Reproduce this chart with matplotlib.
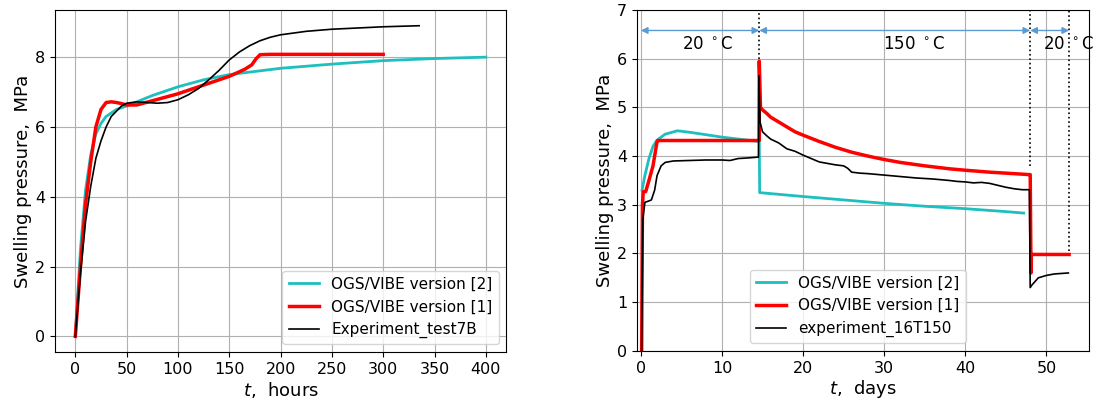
import matplotlib.pyplot as plt
import numpy as np

# --- left panel: test 7B, time in hours ---
t_v2_h = [0, 5, 10, 15, 20, 25, 30, 40, 50, 75, 100, 125, 150, 200, 250, 300, 350, 400]
p_v2_h = [0, 2.5, 4.2, 5.2, 5.8, 6.1, 6.3, 6.5, 6.6, 6.9, 7.15, 7.35, 7.5, 7.68, 7.8, 7.9, 7.96, 8.0]

t_v1_h = [0, 5, 10, 15, 20, 25, 30, 35, 40, 45, 50, 60, 75, 100, 125, 150, 165, 172, 176, 180, 190, 300]
p_v1_h = [0, 2.0, 3.8, 5.0, 6.0, 6.5, 6.7, 6.72, 6.7, 6.67, 6.63, 6.63, 6.75, 6.95, 7.2, 7.45,
          7.65, 7.78, 7.95, 8.07, 8.08, 8.08]

t_exp_h = [0, 5, 10, 15, 20, 25, 30, 35, 40, 45, 50, 60, 70, 80, 90, 100, 110, 120, 130, 140, 150,
           160, 170, 180, 190, 200, 225, 250, 300, 335]
p_exp_h = [0, 1.8, 3.3, 4.3, 5.1, 5.6, 6.0, 6.3, 6.45, 6.6, 6.68, 6.72, 6.7, 6.68, 6.7, 6.78, 6.92,
           7.1, 7.35, 7.62, 7.92, 8.15, 8.33, 8.47, 8.57, 8.64, 8.74, 8.8, 8.87, 8.9]

# --- right panel: 16T150, time in days ---
t_v2_d = [0.15, 0.5, 1, 1.5, 2, 3, 4.5, 6, 8, 10, 12, 14.6, 14.65, 20, 25, 30, 35, 40, 45, 47.2]
p_v2_d = [3.3, 3.6, 3.95, 4.2, 4.33, 4.45, 4.52, 4.49, 4.44, 4.39, 4.35, 4.3, 3.25, 3.17, 3.1,
          3.03, 2.97, 2.92, 2.86, 2.83]

t_v1_d = [0.1, 0.2, 0.3, 0.6, 1, 1.5, 2, 2.1, 14.6, 14.6, 14.75, 15, 15.5, 16, 17, 18, 19, 20, 22,
          24, 26, 28, 30, 32, 35, 38, 40, 43, 45, 47.9, 48.0, 48.1, 48.1, 52.8]
p_v1_d = [0, 3.0, 3.27, 3.27, 3.5, 3.8, 4.3, 4.32, 4.32, 5.95, 5.0, 4.95, 4.88, 4.8, 4.7, 4.6,
          4.5, 4.43, 4.3, 4.18, 4.08, 4.0, 3.93, 3.87, 3.8, 3.74, 3.71, 3.67, 3.65, 3.62, 3.62,
          1.6, 1.98, 1.98]

t_exp_d = [0.1, 0.25, 0.5, 1, 1.3, 1.7, 2, 2.5, 3, 4, 6, 8, 10, 11, 12, 13, 14.5, 14.55, 14.7, 15,
           15.5, 16, 17, 18, 19, 20, 21, 22, 23, 24, 25, 25.5, 26, 27, 28, 30, 32, 34, 35, 36, 38,
           39, 40, 41, 42, 43, 44, 45, 46, 47, 47.9, 48.0, 48.2, 49, 50, 51, 52.7]
p_exp_d = [0, 2.7, 3.05, 3.08, 3.1, 3.3, 3.6, 3.8, 3.87, 3.9, 3.91, 3.92, 3.92, 3.91, 3.95, 3.96,
           3.98, 5.65, 4.7, 4.5, 4.42, 4.35, 4.27, 4.15, 4.1, 4.02, 3.95, 3.88, 3.85, 3.82, 3.8,
           3.75, 3.67, 3.65, 3.64, 3.61, 3.58, 3.55, 3.54, 3.53, 3.5, 3.48, 3.47, 3.45, 3.46,
           3.44, 3.4, 3.36, 3.33, 3.31, 3.31, 1.3, 1.35, 1.5, 1.55, 1.58, 1.6]

# temperature phases (days)
phase_edges = [0, 14.6, 48.0, 52.8]
phase_labels = ['20 $^\\circ$C', '150 $^\\circ$C', '20 $^\\circ$C']
phase_label_x = [8.2, 33.7, 52.7]
dotted_bottom = [6.0, 3.8, 2.05]

cyan = '#1ebfbf'
label_kw = dict(fontsize=13, labelpad=2)

fig = plt.figure(figsize=(10.96, 4.01), dpi=100)
ax1 = fig.add_axes([0.050, 0.122, 0.412, 0.853])
ax2 = fig.add_axes([0.581, 0.125, 0.413, 0.850])

# left
ax1.plot(t_v2_h, p_v2_h, color=cyan, lw=2, label='OGS/VIBE version [2]')
ax1.plot(t_v1_h, p_v1_h, color='red', lw=2.5, label='OGS/VIBE version [1]')
ax1.plot(t_exp_h, p_exp_h, color='black', lw=1.2, label='Experiment_test7B')
ax1.set_xlim(-20, 420)
ax1.set_ylim(-0.45, 9.35)
ax1.set_xticks(np.arange(0, 401, 50))
ax1.set_yticks([0, 2, 4, 6, 8])
ax1.grid(True, color='#b0b0b0', lw=0.8)
ax1.set_xlabel('$t$,  hours', **label_kw)
ax1.set_ylabel('Swelling pressure,  MPa', **label_kw)
ax1.tick_params(labelsize=11.5)
ax1.legend(loc='lower right', fontsize=11)

# right
ax2.plot(t_v2_d, p_v2_d, color=cyan, lw=2, label='OGS/VIBE version [2]')
ax2.plot(t_v1_d, p_v1_d, color='red', lw=2.5, label='OGS/VIBE version [1]')
ax2.plot(t_exp_d, p_exp_d, color='black', lw=1.2, label='experiment_16T150')
ax2.set_xlim(-0.5, 55.3)
ax2.set_ylim(0, 7)
ax2.set_xticks(np.arange(0, 51, 10))
ax2.set_yticks(np.arange(0, 8, 1))
ax2.grid(True, color='#b0b0b0', lw=0.8)
ax2.set_xlabel('$t$,  days', **label_kw)
ax2.set_ylabel('Swelling pressure,  MPa', **label_kw)
ax2.tick_params(labelsize=11.5)
ax2.legend(loc='lower center', bbox_to_anchor=(0.488, 0.0), fontsize=11)

for x, yb in zip(phase_edges[1:], dotted_bottom):
    ax2.plot([x, x], [yb, 7], color='black', ls=':', lw=1.2, clip_on=False)
for a, b in zip(phase_edges[:-1], phase_edges[1:]):
    ax2.annotate('', xy=(a, 6.58), xytext=(b, 6.58),
                 arrowprops=dict(arrowstyle='<|-|>', color='#5b9bd5', lw=1,
                                 shrinkA=0, shrinkB=0, mutation_scale=10))
for x, s in zip(phase_label_x, phase_labels):
    ax2.text(x, 6.3, s, ha='center', va='center', fontsize=12, clip_on=False)

fig.savefig('out.png', dpi=100)
